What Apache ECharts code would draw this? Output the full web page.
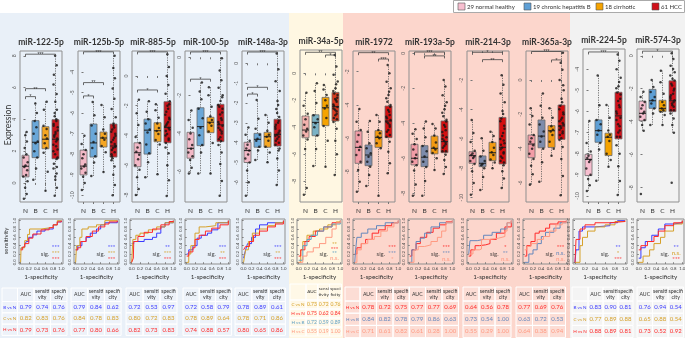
<!DOCTYPE html>
<html>
<head>
<meta charset="utf-8">
<script src="https://cdn.jsdelivr.net/npm/echarts@6/dist/echarts.min.js"></script>
<style>html,body{margin:0;padding:0;background:#fff}#main{width:685px;height:338px}</style>
</head>
<body>
<div id="main"></div>
<script>
// ---- data ----
var panelNames = ['miR-122-5p', 'miR-125b-5p', 'miR-885-5p', 'miR-100-5p', 'miR-148a-3p', 'miR-34a-5p',
  'miR-1972', 'miR-193a-5p', 'miR-214-3p', 'miR-365a-3p', 'miR-224-5p', 'miR-574-3p'];
var groups = ['N', 'B', 'C', 'H'];
var legendNames = ['29 normal healthy', '19 chronic hepatitis B', '18 cirrhotic', '61 HCC'];

// y axis range and tick labels per panel
var yRange = [[-1.2, 8.3], [-10.33, -2.97], [-8.47, 1.68], [-7.6, 0.33], [-6.99, 0.62], [-9.53, 1.73],
  [-9.82, -0.76], [-8.5, 0.13], [-10.3, 0], [-7.11, 1.69], [-10.29, -3.04], [-8.87, 0.41]];
var yTicks = [[0, 2, 4, 6, 8], [-4, -5, -6, -7, -8, -9, -10], [0, -2, -4, -6, -8], [0, -2, -4, -6],
  [0, -1, -2, -3, -4, -5, -6], [0, -2, -4, -6, -8], [-2, -4, -6, -8], [0, -2, -4, -6, -8],
  [-2, -4, -6, -8, -10], [0, -2, -4, -6], [-4, -5, -6, -7, -8, -9, -10], [0, -2, -4, -6, -8]];

// box stats [low whisker, Q1, median, Q3, high whisker] for N, B, C, H
var box_122 = [[-1.0, 0.38, 1.05, 1.74, 3.2], [0.2, 1.59, 2.56, 3.92, 5.07], [-0.5, 2.15, 2.75, 3.54, 5.17], [-0.8, 1.52, 2.75, 3.98, 7.97]];
var box_125b = [[-9.75, -9.01, -8.58, -7.8, -7.11], [-9.06, -8.14, -7.45, -6.53, -5.45], [-8.87, -7.65, -7.21, -6.92, -5.6], [-10.0, -8.14, -7.6, -6.53, -3.16]];
var box_885 = [[-8.0, -6.1, -5.16, -4.49, -1.6], [-6.8, -5.25, -3.64, -2.9, -1.73], [-6.6, -4.42, -3.68, -3.14, -1.89], [-8.06, -4.49, -3.45, -1.73, 1.46]];
var box_100 = [[-6.1, -5.3, -4.78, -3.94, -2.77], [-6.1, -4.64, -3.64, -2.65, -1.33], [-6.1, -3.96, -3.41, -3.15, -1.57], [-7.27, -4.43, -3.55, -2.47, -0.05]];
var box_148a = [[-6.67, -5.0, -4.4, -3.98, -3.24], [-4.87, -4.23, -3.83, -3.53, -1.85], [-4.99, -4.23, -3.7, -3.48, -2.6], [-6.13, -4.17, -3.58, -2.82, 0.5]];
var box_34a = [[-9.0, -4.77, -4.2, -3.16, -1.44], [-6.87, -4.62, -3.63, -3.07, -0.74], [-6.92, -3.88, -2.55, -1.78, -0.87], [-7.53, -3.53, -2.47, -1.41, 1.36]];
var box_1972 = [[-9.2, -7.5, -6.54, -5.56, -4.24], [-8.86, -7.64, -7.0, -6.4, -4.96], [-9.44, -6.54, -5.94, -5.54, -4.6], [-8.1, -5.96, -4.96, -4.06, -1.6]];
var box_193a = [[-8.14, -6.38, -6.0, -5.2, -4.34], [-8.14, -6.48, -5.94, -5.28, -3.9], [-6.67, -5.75, -5.43, -4.73, -4.04], [-6.9, -5.68, -5.05, -3.87, -1.53]];
var box_214 = [[-9.8, -7.66, -7.14, -6.87, -4.71], [-9.48, -7.89, -7.66, -7.16, -5.96], [-8.0, -7.48, -6.94, -6.23, -5.51], [-9.34, -7.71, -6.57, -4.53, -1.65]];
var box_365a = [[-6.1, -4.53, -3.73, -3.21, -1.65], [-5.93, -3.95, -3.27, -2.33, -0.78], [-4.41, -3.93, -2.96, -2.66, -1.65], [-6.71, -3.46, -2.68, -1.46, 1.59]];
var box_224 = [[-9.77, -9.04, -8.27, -8.03, -6.45], [-9.28, -7.46, -6.91, -6.4, -4.3], [-8.62, -8.09, -7.22, -7.03, -5.69], [-9.96, -7.3, -6.21, -5.09, -3.3]];
var box_574 = [[-4.55, -3.94, -3.49, -2.75, -2.18], [-4.2, -3.19, -2.73, -2.04, -1.47], [-4.2, -3.39, -3.19, -2.7, -0.91], [-4.67, -3.39, -2.73, -1.52, 0.15]];

// individual samples (read approximately)
var pts_122 = [[-1.0, -0.7, -0.3, 0.1, 0.4, 0.5, 0.8, 1.0, 1.1, 1.3, 1.6, 1.8, 2.2, 2.6, 3.0, 3.2],
  [0.2, 0.9, 1.6, 2.0, 2.5, 2.6, 3.1, 3.5, 3.9, 4.4, 5.0],
  [-0.5, 0.7, 1.9, 2.2, 2.5, 2.8, 3.0, 3.4, 3.6, 4.6, 5.1],
  [-0.8, -0.3, 0.2, 0.6, 0.9, 1.2, 1.5, 1.8, 2.1, 2.4, 2.6, 2.8, 3.0, 3.2, 3.5, 3.7, 3.9, 4.2, 4.6, 5.1, 5.6, 6.2, 6.8, 7.4, 8.0,
    1.6, 2.0, 2.3, 2.7, 2.9, 3.1, 3.3, 3.6, 4.0, 4.4, 1.0, 0.4]];
var pts_125b = [[-9.75, -9.4, -9.1, -8.9, -8.7, -8.6, -8.5, -8.2, -8.0, -7.8, -7.5, -7.1],
  [-9.06, -8.4, -8.1, -7.7, -7.4, -7.0, -6.6, -6.1, -5.45],
  [-8.87, -7.9, -7.6, -7.3, -7.2, -7.0, -6.8, -6.2, -5.6],
  [-10.0, -9.5, -9.0, -8.6, -8.3, -8.1, -7.9, -7.7, -7.6, -7.4, -7.2, -7.0, -6.8, -6.5, -6.2, -5.8, -5.3, -4.8, -4.3, -3.8, -3.2,
    -8.0, -7.8, -7.5, -7.3, -7.1, -6.9, -6.7, -7.65, -8.2, -6.6]];
var pts_885 = [[-8.0, -7.6, -6.8, -6.3, -6.0, -5.6, -5.3, -5.1, -4.8, -4.5, -4.1, -3.3, -2.5, -1.6],
  [-6.8, -5.8, -5.2, -4.6, -3.8, -3.6, -3.2, -2.9, -2.4, -1.7],
  [-6.6, -4.6, -4.3, -3.9, -3.7, -3.5, -3.2, -2.8, -2.3, -1.9],
  [-8.06, -7.0, -6.0, -5.2, -4.8, -4.5, -4.2, -3.9, -3.6, -3.4, -3.1, -2.8, -2.4, -2.0, -1.7, -1.2, -0.6, 0.0, 0.6, 1.46,
    -4.3, -4.0, -3.7, -3.5, -3.2, -2.9, -2.6, -2.2, -1.9, -3.3]];
var pts_100 = [[-6.1, -5.8, -5.4, -5.2, -5.0, -4.8, -4.6, -4.3, -4.0, -3.7, -3.3, -2.8],
  [-6.1, -5.0, -4.6, -4.1, -3.7, -3.2, -2.7, -2.2, -1.8, -1.33],
  [-6.1, -4.5, -3.9, -3.6, -3.45, -3.3, -3.1, -2.6, -2.0, -1.57],
  [-7.27, -6.5, -5.6, -5.0, -4.6, -4.3, -4.0, -3.8, -3.6, -3.4, -3.2, -2.9, -2.6, -2.3, -2.0, -1.6, -1.2, -0.7, -0.05,
    -4.2, -3.9, -3.7, -3.5, -3.3, -3.0, -2.7, -2.5, -4.4, -2.1]];
var pts_148a = [[-6.67, -6.0, -5.4, -5.0, -4.8, -4.6, -4.4, -4.3, -4.1, -3.9, -3.6, -3.24],
  [-4.87, -4.4, -4.2, -3.9, -3.8, -3.6, -3.3, -2.8, -1.85],
  [-4.99, -4.5, -4.2, -3.9, -3.7, -3.6, -3.4, -3.0, -2.6],
  [-6.13, -5.4, -4.8, -4.4, -4.1, -3.9, -3.7, -3.6, -3.4, -3.2, -3.0, -2.7, -2.3, -1.9, -1.4, -0.9, -0.3, 0.5,
    -4.0, -3.8, -3.5, -3.3, -3.1, -2.9, -2.5, -4.3, -3.65, -2.1]];
var pts_34a = [[-9.0, -8.5, -5.6, -4.9, -4.6, -4.3, -4.1, -3.8, -3.4, -3.0, -2.4, -1.44],
  [-6.87, -5.6, -4.6, -4.0, -3.7, -3.4, -3.1, -2.2, -1.3, -0.74],
  [-6.92, -5.0, -3.9, -3.3, -2.6, -2.4, -2.0, -1.6, -1.2, -0.87],
  [-7.53, -6.0, -5.0, -4.1, -3.6, -3.3, -3.0, -2.7, -2.5, -2.3, -2.0, -1.8, -1.5, -1.1, -0.6, -0.1, 0.5, 1.36,
    -3.4, -3.1, -2.8, -2.6, -2.4, -2.1, -1.9, -1.6, -1.3, -0.8]];
var pts_1972 = [[-9.2, -8.6, -7.9, -7.4, -7.0, -6.7, -6.5, -6.2, -5.8, -5.5, -5.0, -4.24],
  [-8.86, -8.2, -7.7, -7.4, -7.1, -6.9, -6.6, -6.3, -5.6, -4.96],
  [-9.44, -6.6, -6.3, -6.0, -5.9, -5.7, -5.5, -5.0, -4.6],
  [-8.1, -7.5, -6.8, -6.2, -5.9, -5.6, -5.3, -5.1, -4.9, -4.7, -4.4, -4.1, -3.8, -3.4, -3.0, -2.6, -2.1, -1.6,
    -5.8, -5.5, -5.2, -5.0, -4.8, -4.6, -4.3, -4.0, -3.6, -3.2]];
var pts_193a = [[-8.14, -7.5, -6.7, -6.4, -6.2, -6.0, -5.8, -5.5, -5.2, -4.9, -4.6, -4.34],
  [-8.14, -7.3, -6.5, -6.2, -5.9, -5.6, -5.3, -4.8, -4.3, -3.9],
  [-6.67, -6.0, -5.7, -5.5, -5.4, -5.1, -4.7, -4.3, -4.04],
  [-6.9, -6.5, -6.1, -5.8, -5.6, -5.4, -5.2, -5.0, -4.8, -4.5, -4.2, -3.9, -3.6, -3.2, -2.8, -2.4, -1.9, -1.53,
    -5.6, -5.3, -5.1, -4.9, -4.7, -4.4, -4.1, -3.8, -3.4, -3.0]];
var pts_214 = [[-9.8, -9.0, -8.2, -7.7, -7.5, -7.3, -7.2, -7.1, -7.0, -6.8, -6.2, -5.6, -4.71],
  [-9.48, -8.6, -8.0, -7.8, -7.7, -7.5, -7.2, -6.8, -5.96],
  [-8.0, -7.6, -7.4, -7.1, -6.9, -6.6, -6.2, -5.8, -5.51],
  [-9.34, -8.7, -8.2, -7.8, -7.5, -7.2, -6.9, -6.6, -6.3, -6.0, -5.6, -5.1, -4.6, -4.1, -3.5, -2.9, -2.3, -1.65,
    -7.6, -7.3, -7.0, -6.7, -6.4, -6.1, -5.8, -5.3, -4.8, -4.3]];
var pts_365a = [[-6.1, -5.5, -5.0, -4.6, -4.3, -4.0, -3.8, -3.6, -3.4, -3.2, -2.6, -2.1, -1.65],
  [-5.93, -4.8, -4.0, -3.6, -3.3, -3.0, -2.6, -2.2, -1.5, -0.78],
  [-4.41, -4.0, -3.6, -3.2, -3.0, -2.9, -2.7, -2.2, -1.65],
  [-6.71, -5.6, -4.6, -3.9, -3.5, -3.2, -3.0, -2.8, -2.6, -2.4, -2.2, -1.9, -1.5, -1.1, -0.6, 0.0, 0.6, 1.0, 1.59,
    -3.4, -3.1, -2.9, -2.7, -2.5, -2.3, -2.0, -1.7, -1.3, -0.3]];
var pts_224 = [[-9.77, -9.5, -9.2, -9.0, -8.7, -8.4, -8.3, -8.2, -8.1, -7.9, -7.5, -6.45],
  [-9.28, -7.8, -7.5, -7.1, -6.9, -6.6, -6.4, -5.7, -4.3],
  [-8.62, -8.3, -8.0, -7.4, -7.2, -7.1, -6.9, -6.3, -5.69],
  [-9.96, -9.3, -8.6, -8.0, -7.6, -7.2, -6.9, -6.6, -6.3, -6.0, -5.7, -5.4, -5.1, -4.8, -4.4, -4.0, -3.6, -3.3,
    -7.2, -7.0, -6.7, -6.4, -6.1, -5.8, -5.5, -5.2, -4.9, -4.6]];
var pts_574 = [[-8.38, -4.55, -4.2, -3.9, -3.7, -3.5, -3.4, -3.2, -3.0, -2.8, -2.5, -2.18],
  [-4.2, -3.5, -3.2, -2.9, -2.7, -2.5, -2.2, -1.9, -1.47],
  [-4.2, -3.6, -3.4, -3.3, -3.2, -3.0, -2.8, -2.3, -1.6, -0.91],
  [-7.7, -4.67, -4.2, -3.8, -3.5, -3.3, -3.1, -2.9, -2.7, -2.5, -2.3, -2.0, -1.7, -1.4, -1.0, -0.6, -0.2, 0.15,
    -3.3, -3.0, -2.8, -2.6, -2.4, -2.1, -1.8, -1.5, -1.2, -0.8]];

// significance brackets [group a, group b, level, label]
var brk_122 = [[0, 1, 5.43, '*'], [0, 2, 5.93, '**'], [0, 3, 8.1, '***']];
var brk_125b = [[0, 1, -5.16, '*'], [0, 2, -4.51, '**'], [0, 3, -3.01, '***']];
var brk_885 = [[0, 2, -0.94, '*'], [0, 3, 1.62, '***']];
var brk_100 = [[0, 2, -1.15, '*'], [0, 3, 0.28, '***']];
var brk_148a = [[0, 1, -1.55, '*'], [0, 2, -1.21, '*'], [0, 3, 0.57, '***']];
var brk_34a = [[0, 3, 1.56, '**'], [2, 3, 1.36, '*']];
var brk_1972 = [[0, 3, -0.86, '**'], [2, 3, -1.24, '***']];
var brk_193a = [[0, 3, 0.07, '***'], [1, 3, -0.15, '**']];
var brk_214 = [[0, 3, -0.09, '*'], [1, 3, -0.59, '**']];
var brk_365a = [[0, 3, 1.66, '***'], [2, 3, 1.17, '*']];
var brk_224 = [[0, 3, -3.18, '***']];
var brk_574 = [[0, 3, 0.28, '*']];

// ROC curves [1-specificity, sensitivity], one list per comparison
var roc_122 = [
  [[0, 0.33], [0.04, 0.37], [0.1, 0.42], [0.14, 0.5], [0.2, 0.6], [0.3, 0.66], [0.4, 0.75], [0.6, 0.8], [0.8, 0.9], [0.9, 0.97], [1, 1]],
  [[0, 0], [0.01, 0.35], [0.1, 0.52], [0.17, 0.67], [0.22, 0.8], [0.5, 0.84], [0.8, 0.9], [0.9, 1], [1, 1]],
  [[0, 0.3], [0.05, 0.37], [0.1, 0.45], [0.2, 0.58], [0.3, 0.68], [0.5, 0.78], [0.7, 0.83], [0.8, 0.9], [0.9, 0.97], [1, 1]]];
var roc_125b = [
  [[0, 0.3], [0.05, 0.4], [0.15, 0.5], [0.25, 0.6], [0.35, 0.7], [0.5, 0.8], [0.6, 0.9], [0.7, 0.95], [1, 1]],
  [[0, 0], [0.02, 0.4], [0.1, 0.6], [0.15, 0.8], [0.3, 0.85], [0.5, 0.9], [0.7, 1], [1, 1]],
  [[0, 0.3], [0.05, 0.35], [0.12, 0.5], [0.25, 0.62], [0.4, 0.75], [0.55, 0.85], [0.7, 0.92], [0.8, 0.97], [1, 1]]];
var roc_885 = [
  [[0, 0.45], [0.05, 0.5], [0.2, 0.5], [0.3, 0.55], [0.5, 0.6], [0.6, 0.7], [0.7, 0.85], [0.8, 0.95], [1, 1]],
  [[0, 0], [0.03, 0.55], [0.1, 0.65], [0.2, 0.7], [0.4, 0.78], [0.6, 0.85], [0.8, 0.95], [1, 1]],
  [[0, 0], [0.04, 0.1], [0.05, 0.5], [0.15, 0.62], [0.3, 0.72], [0.5, 0.8], [0.7, 0.9], [0.9, 0.98], [1, 1]]];
var roc_100 = [
  [[0, 0.2], [0.05, 0.3], [0.15, 0.4], [0.25, 0.58], [0.35, 0.65], [0.5, 0.7], [0.6, 0.78], [0.75, 0.95], [1, 1]],
  [[0, 0], [0.05, 0.2], [0.1, 0.4], [0.2, 0.7], [0.3, 0.85], [0.45, 0.88], [0.7, 0.95], [1, 1]],
  [[0, 0.15], [0.05, 0.25], [0.15, 0.35], [0.2, 0.55], [0.3, 0.65], [0.45, 0.75], [0.6, 0.82], [0.8, 0.9], [1, 1]]];
var roc_148a = [
  [[0, 0.1], [0.05, 0.3], [0.1, 0.45], [0.2, 0.6], [0.3, 0.8], [0.4, 0.9], [0.6, 0.95], [1, 1]],
  [[0, 0], [0.05, 0.3], [0.12, 0.5], [0.22, 0.7], [0.4, 0.8], [0.6, 0.88], [0.8, 0.95], [1, 1]],
  [[0, 0.3], [0.05, 0.38], [0.15, 0.5], [0.25, 0.65], [0.4, 0.75], [0.6, 0.85], [0.8, 0.92], [1, 1]]];
var roc_34a = [
  [[0, 0], [0.05, 0.3], [0.1, 0.5], [0.2, 0.65], [0.35, 0.75], [0.5, 0.8], [0.7, 0.9], [0.9, 0.97], [1, 1]],
  [[0, 0.15], [0.05, 0.3], [0.15, 0.5], [0.25, 0.62], [0.4, 0.75], [0.6, 0.85], [0.8, 0.95], [1, 1]],
  [[0, 0.05], [0.1, 0.4], [0.2, 0.55], [0.3, 0.65], [0.45, 0.75], [0.6, 0.85], [0.8, 0.92], [1, 1]],
  [[0, 0], [0.1, 0.15], [0.2, 0.25], [0.35, 0.35], [0.5, 0.45], [0.65, 0.6], [0.8, 0.8], [0.9, 0.95], [1, 1]]];
var roc_1972 = [
  [[0, 0.2], [0.05, 0.35], [0.15, 0.45], [0.25, 0.55], [0.4, 0.7], [0.55, 0.78], [0.7, 0.88], [0.85, 0.95], [1, 1]],
  [[0, 0], [0.02, 0.3], [0.05, 0.6], [0.15, 0.7], [0.3, 0.8], [0.5, 0.88], [0.7, 0.95], [1, 1]],
  [[0, 0], [0.05, 0.3], [0.15, 0.45], [0.3, 0.55], [0.45, 0.62], [0.6, 0.75], [0.75, 0.85], [0.9, 0.95], [1, 1]]];
var roc_193a = [
  [[0, 0.15], [0.05, 0.3], [0.15, 0.45], [0.25, 0.6], [0.4, 0.72], [0.55, 0.82], [0.7, 0.9], [0.85, 0.97], [1, 1]],
  [[0, 0], [0.05, 0.3], [0.15, 0.5], [0.25, 0.58], [0.35, 0.7], [0.5, 0.85], [0.7, 0.95], [1, 1]],
  [[0, 0], [0.1, 0.3], [0.2, 0.38], [0.35, 0.42], [0.5, 0.5], [0.65, 0.6], [0.75, 0.75], [0.85, 0.95], [1, 1]]];
var roc_214 = [
  [[0, 0.15], [0.05, 0.3], [0.15, 0.4], [0.25, 0.42], [0.4, 0.45], [0.5, 0.55], [0.65, 0.7], [0.85, 0.85], [1, 1]],
  [[0, 0.2], [0.03, 0.52], [0.2, 0.55], [0.35, 0.65], [0.55, 0.72], [0.75, 0.8], [0.9, 0.95], [1, 1]],
  [[0, 0.2], [0.1, 0.3], [0.25, 0.32], [0.3, 0.55], [0.5, 0.58], [0.7, 0.62], [0.85, 0.75], [0.9, 0.95], [1, 1]]];
var roc_365a = [
  [[0, 0.15], [0.05, 0.4], [0.15, 0.5], [0.25, 0.7], [0.35, 0.75], [0.5, 0.82], [0.6, 0.92], [0.8, 0.97], [1, 1]],
  [[0, 0], [0.1, 0.2], [0.2, 0.3], [0.3, 0.45], [0.4, 0.62], [0.5, 0.72], [0.7, 0.82], [0.85, 0.95], [1, 1]],
  [[0, 0.3], [0.05, 0.38], [0.15, 0.45], [0.3, 0.55], [0.45, 0.62], [0.6, 0.75], [0.75, 0.9], [0.9, 0.95], [1, 1]]];
var roc_224 = [
  [[0, 0], [0.02, 0.3], [0.08, 0.75], [0.15, 0.85], [0.4, 0.88], [0.7, 0.95], [0.85, 1], [1, 1]],
  [[0, 0], [0.1, 0.4], [0.15, 0.6], [0.25, 0.75], [0.4, 0.85], [0.6, 0.9], [0.8, 0.98], [1, 1]],
  [[0, 0], [0.02, 0.55], [0.1, 0.8], [0.2, 0.9], [0.4, 0.95], [0.7, 0.98], [1, 1]]];
var roc_574 = [
  [[0, 0.1], [0.05, 0.35], [0.15, 0.5], [0.3, 0.65], [0.45, 0.8], [0.6, 0.92], [0.8, 0.95], [1, 1]],
  [[0, 0], [0.1, 0.15], [0.25, 0.3], [0.35, 0.45], [0.5, 0.6], [0.6, 0.75], [0.8, 0.92], [1, 1]],
  [[0, 0.3], [0.05, 0.4], [0.2, 0.5], [0.35, 0.62], [0.45, 0.75], [0.6, 0.88], [0.8, 0.95], [1, 1]]];

// significance of each ROC curve
var sig_122 = ['***', '***', '***'];
var sig_125b = ['***', '***', '***'];
var sig_885 = ['**', '***', '***'];
var sig_100 = ['***', '**', '***'];
var sig_148a = ['***', '**', '***'];
var sig_34a = ['**', '***', '**', 'n.s.'];
var sig_1972 = ['***', '***', '*'];
var sig_193a = ['***', '***', 'n.s.'];
var sig_214 = ['*', '**', 'n.s.'];
var sig_365a = ['***', 'n.s.', 'n.s.'];
var sig_224 = ['**', '*', '***'];
var sig_574 = ['**', 'n.s.', '***'];

// AUC / sensitivity / specificity tables
var tab_122 = [['0.79', '0.74', '0.76'], ['0.82', '0.83', '0.76'], ['0.79', '0.73', '0.76']];
var tab_125b = [['0.79', '0.84', '0.62'], ['0.84', '0.78', '0.83'], ['0.77', '0.80', '0.66']];
var tab_885 = [['0.72', '0.53', '0.97'], ['0.80', '0.72', '0.83'], ['0.82', '0.73', '0.83']];
var tab_100 = [['0.72', '0.58', '0.79'], ['0.78', '0.89', '0.64'], ['0.74', '0.88', '0.57']];
var tab_148a = [['0.78', '0.89', '0.61'], ['0.78', '0.71', '0.86'], ['0.80', '0.65', '0.86']];
var tab_34a = [['0.73', '0.72', '0.76'], ['0.75', '0.62', '0.84'], ['0.72', '0.59', '0.89'], ['0.55', '0.19', '1.00']];
var tab_1972 = [['0.78', '0.72', '0.75'], ['0.84', '0.82', '0.78'], ['0.71', '0.61', '0.82']];
var tab_193a = [['0.77', '0.77', '0.69'], ['0.79', '0.86', '0.63'], ['0.61', '0.28', '1.00']];
var tab_214 = [['0.64', '0.56', '0.78'], ['0.73', '0.54', '1.00'], ['0.55', '0.29', '1.00']];
var tab_365a = [['0.77', '0.69', '0.76'], ['0.63', '0.72', '0.53'], ['0.64', '0.38', '0.94']];
var tab_224 = [['0.83', '0.90', '0.81'], ['0.77', '0.89', '0.88'], ['0.88', '0.89', '0.81']];
var tab_574 = [['0.76', '0.94', '0.54'], ['0.65', '0.88', '0.54'], ['0.73', '0.52', '0.92']];

var rowsStd = ['B vs N', 'C vs N', 'H vs N'];
var rows34a = ['C vs N', 'H vs N', 'H vs B', 'H vs C'];
var rowsHcc = ['H vs N', 'H vs B', 'H vs C'];

// ---- styling / layout ----
var cBlue = '#3a3aff', cGold = '#d6a12a', cRed = '#ff2a2a', cSteel = '#6487bd', cSalmon = '#ff9a82';
var cmpStd = [cBlue, cGold, cRed], cmp34a = [cGold, cRed, '#5f9fc4', cSalmon], cmpHcc = [cRed, cSteel, cSalmon];
var colBlue = ['#f2b8c6', '#6aa7d8', '#f5a623', '#c8161d'];
var colYellow = ['#f3b2ad', '#7bb2c4', '#f5a300', '#d83a1c'];
var colRed = ['#f29ca6', '#7d8bab', '#f39a12', '#d40f10'];
var colGrey = ['#f7bfd0', '#5e9fd5', '#f5a300', '#d0101a'];

var panels = [
  {box: box_122, pts: pts_122, brk: brk_122, roc: roc_122, sig: sig_122, tab: tab_122, rows: rowsStd, cmp: cmpStd, col: colBlue},
  {box: box_125b, pts: pts_125b, brk: brk_125b, roc: roc_125b, sig: sig_125b, tab: tab_125b, rows: null, cmp: cmpStd, col: colBlue},
  {box: box_885, pts: pts_885, brk: brk_885, roc: roc_885, sig: sig_885, tab: tab_885, rows: null, cmp: cmpStd, col: colBlue},
  {box: box_100, pts: pts_100, brk: brk_100, roc: roc_100, sig: sig_100, tab: tab_100, rows: null, cmp: cmpStd, col: colBlue},
  {box: box_148a, pts: pts_148a, brk: brk_148a, roc: roc_148a, sig: sig_148a, tab: tab_148a, rows: null, cmp: cmpStd, col: colBlue},
  {box: box_34a, pts: pts_34a, brk: brk_34a, roc: roc_34a, sig: sig_34a, tab: tab_34a, rows: rows34a, cmp: cmp34a, col: colYellow},
  {box: box_1972, pts: pts_1972, brk: brk_1972, roc: roc_1972, sig: sig_1972, tab: tab_1972, rows: rowsHcc, cmp: cmpHcc, col: colRed},
  {box: box_193a, pts: pts_193a, brk: brk_193a, roc: roc_193a, sig: sig_193a, tab: tab_193a, rows: null, cmp: cmpHcc, col: colRed},
  {box: box_214, pts: pts_214, brk: brk_214, roc: roc_214, sig: sig_214, tab: tab_214, rows: null, cmp: cmpHcc, col: colRed},
  {box: box_365a, pts: pts_365a, brk: brk_365a, roc: roc_365a, sig: sig_365a, tab: tab_365a, rows: null, cmp: cmpHcc, col: colRed},
  {box: box_224, pts: pts_224, brk: brk_224, roc: roc_224, sig: sig_224, tab: tab_224, rows: rowsStd, cmp: cmpStd, col: colGrey},
  {box: box_574, pts: pts_574, brk: brk_574, roc: roc_574, sig: sig_574, tab: tab_574, rows: null, cmp: cmpStd, col: colGrey}
];

var frameLeft = [20, 78, 132, 185, 242, 300, 353, 409, 467, 526, 583, 637];
var frameTop = [51, 51, 51, 51, 51, 50, 51, 51, 51, 51, 49, 49];
var frameW = 42, frameBottom = 202;
var rocLeft = [19, 74, 130, 185, 242, 297, 353, 408, 467, 523, 573, 637];
var rocW = [44, 45, 45, 45, 43, 45, 47, 46, 46, 45, 54, 47];
var rocTop = 219, rocBottom = 264;
var tabLeft = [17.5, 71, 126, 183, 235, 306, 360, 409, 463, 516, 588, 637];
var tabColW = [16.5, 16.7, 17, 16.2, 16.8, 11.8, 16.5, 16.5, 16, 16.5, 15, 15.5];
var tabLabelLeft = [2, null, null, null, null, 290, 345, null, null, null, 572, null];
var jit = [-0.16, 0.12, -0.04, 0.2, -0.22, 0.06, 0.17, -0.12, 0.0, 0.22, -0.19, 0.09, -0.08, 0.14, -0.02, 0.11, -0.2];
var FONT = 'Lato, "Open Sans", sans-serif';

var grids = [], xAxes = [], yAxes = [], series = [], graphics = [];

function boxRender(colors) {
  return function (params, api) {
    var g = api.value(0);
    var lo = api.coord([g, api.value(1)]), q1 = api.coord([g, api.value(2)]);
    var md = api.coord([g, api.value(3)]), q3 = api.coord([g, api.value(4)]);
    var hi = api.coord([g, api.value(5)]);
    var hw = api.size([0.35, 0])[0];
    var x = q1[0];
    return {type: 'group', children: [
      {type: 'line', shape: {x1: x, y1: lo[1], x2: x, y2: q1[1]}, style: {stroke: '#555', lineWidth: 0.8, lineDash: [1.2, 1.2]}},
      {type: 'line', shape: {x1: x, y1: q3[1], x2: x, y2: hi[1]}, style: {stroke: '#555', lineWidth: 0.8, lineDash: [1.2, 1.2]}},
      {type: 'rect', shape: {x: x - hw, y: q3[1], width: hw * 2, height: q1[1] - q3[1]}, style: {fill: colors[g], stroke: '#6b6b6b', lineWidth: 0.8}},
      {type: 'line', shape: {x1: x - hw, y1: md[1], x2: x + hw, y2: md[1]}, style: {stroke: '#222', lineWidth: 1}}
    ]};
  };
}

function brkRender(list) {
  return function (params, api) {
    var b = list[params.dataIndex];
    var a = api.coord([b[0], b[2]]), c = api.coord([b[1], b[2]]);
    return {type: 'group', children: [
      {type: 'polyline', shape: {points: [[a[0], a[1] + 2.5], [a[0], a[1]], [c[0], c[1]], [c[0], c[1] + 2.5]]}, style: {stroke: '#444', lineWidth: 0.8, fill: null}},
      {type: 'text', x: (a[0] + c[0]) / 2, y: a[1] + 0.5, style: {text: b[3], fill: '#333', font: '5px sans-serif', align: 'center', verticalAlign: 'middle'}}
    ]};
  };
}

panels.forEach(function (p, i) {
  var bi = 2 * i, ri = 2 * i + 1;
  // box plot grid
  grids.push({left: frameLeft[i], top: frameTop[i], width: frameW, height: frameBottom - frameTop[i],
    show: true, borderColor: '#8f8f8f', borderWidth: 1, backgroundColor: 'transparent', outerBoundsMode: 'none'});
  xAxes.push({gridIndex: bi, type: 'value', min: -0.55, max: 3.65, splitLine: {show: false}, axisLine: {show: false},
    axisTick: {show: true, customValues: [0, 1, 2, 3], length: 2, lineStyle: {color: '#777'}},
    axisLabel: {customValues: [0, 1, 2, 3], formatter: function (v) { return groups[Math.round(v)]; },
      fontSize: 6.5, color: '#333', margin: 5, fontFamily: FONT}});
  yAxes.push({gridIndex: bi, type: 'value', min: yRange[i][0], max: yRange[i][1], splitLine: {show: false},
    axisLine: {show: false}, axisTick: {show: true, customValues: yTicks[i], length: 2, lineStyle: {color: '#777'}},
    axisLabel: {customValues: yTicks[i], rotate: 90, fontSize: 5, color: '#555', margin: 3, fontFamily: FONT}});

  // ROC grid
  grids.push({left: rocLeft[i], top: rocTop, width: rocW[i], height: rocBottom - rocTop,
    show: true, borderColor: '#8f8f8f', borderWidth: 1, backgroundColor: 'transparent', outerBoundsMode: 'none'});
  var rt = [0, 0.2, 0.4, 0.6, 0.8, 1.0];
  xAxes.push({gridIndex: ri, type: 'value', min: -0.04, max: 1.04, splitLine: {show: false}, axisLine: {show: false},
    axisTick: {show: true, customValues: rt, length: 1.5, lineStyle: {color: '#777'}},
    axisLabel: {customValues: rt, formatter: function (v) { return v.toFixed(1); }, fontSize: 4.3, color: '#444', margin: 3, fontFamily: FONT}});
  yAxes.push({gridIndex: ri, type: 'value', min: -0.04, max: 1.04, splitLine: {show: false}, axisLine: {show: false},
    axisTick: {show: true, customValues: rt, length: 1.5, lineStyle: {color: '#777'}},
    axisLabel: {customValues: rt, formatter: function (v) { return v.toFixed(1); }, rotate: 90, fontSize: 4.3, color: '#444', margin: 2.5, fontFamily: FONT}});

  series.push({type: 'custom', xAxisIndex: bi, yAxisIndex: bi, z: 2, silent: true,
    data: p.box.map(function (s, g) { return [g].concat(s); }), renderItem: boxRender(p.col)});
  var pd = [];
  p.pts.forEach(function (vals, g) {
    vals.forEach(function (v, k) { pd.push([g + jit[(k + g * 4) % jit.length], v]); });
  });
  series.push({type: 'scatter', xAxisIndex: bi, yAxisIndex: bi, z: 3, silent: true, symbolSize: 2.5,
    itemStyle: {color: '#151515'}, data: pd});
  series.push({type: 'custom', xAxisIndex: bi, yAxisIndex: bi, z: 4, silent: true,
    data: p.brk.map(function (b) { return [b[0], b[2]]; }), renderItem: brkRender(p.brk)});

  p.roc.forEach(function (curve, c) {
    series.push({type: 'line', xAxisIndex: ri, yAxisIndex: ri, step: 'end', showSymbol: false, silent: true, z: 3,
      lineStyle: {color: p.cmp[c], width: 1}, data: curve});
  });
  var n = p.sig.length;
  var sy = n === 4 ? [0.44, 0.33, 0.22, 0.1] : [0.37, 0.22, 0.08];
  var sigData = [{value: [0.6, 0.2], label: {formatter: 'sig.', color: '#222', fontSize: 6}}];
  p.sig.forEach(function (s, c) {
    sigData.push({value: [0.86, sy[c]], label: {formatter: s, color: p.cmp[c], fontSize: 6, fontWeight: 'bold'}});
  });
  series.push({type: 'scatter', xAxisIndex: ri, yAxisIndex: ri, symbolSize: 0, silent: true, z: 5,
    label: {show: true, position: 'inside', fontFamily: FONT}, data: sigData});
});

// ---- graphic: backgrounds, titles, legend, tables ----
graphics.push({type: 'rect', z: -10, shape: {x: 0, y: 13, width: 289, height: 325}, style: {fill: '#e9f0f8'}});
graphics.push({type: 'rect', z: -10, shape: {x: 289, y: 13, width: 54, height: 325}, style: {fill: '#fff7e2'}});
graphics.push({type: 'rect', z: -10, shape: {x: 343, y: 13, width: 227, height: 325}, style: {fill: '#fcd6cc'}});
graphics.push({type: 'rect', z: -10, shape: {x: 570, y: 13, width: 115, height: 325}, style: {fill: '#f2f2f2'}});

panels.forEach(function (p, i) {
  graphics.push({type: 'text', z: 20, x: frameLeft[i] + frameW / 2, y: frameTop[i] - 9,
    style: {text: panelNames[i], fill: '#333', font: 'bold 8.5px ' + FONT, align: 'center', verticalAlign: 'middle'}});
  graphics.push({type: 'text', z: 20, x: rocLeft[i] + rocW[i] / 2, y: 277,
    style: {text: '1-specificity', fill: '#333', font: '6.3px ' + FONT, align: 'center', verticalAlign: 'middle'}});
});
graphics.push({type: 'text', z: 20, x: 8, y: 125, rotation: Math.PI / 2,
  style: {text: 'Expression', fill: '#333', font: '8.5px ' + FONT, align: 'center', verticalAlign: 'middle'}});
graphics.push({type: 'text', z: 20, x: 6, y: 241, rotation: Math.PI / 2,
  style: {text: 'sensitivity', fill: '#333', font: '6px ' + FONT, align: 'center', verticalAlign: 'middle'}});

// legend
graphics.push({type: 'rect', z: 20, shape: {x: 453.5, y: 0.5, width: 231, height: 12}, style: {fill: '#fff', stroke: '#aaa', lineWidth: 1}});
var legX = [458, 524, 596, 652];
legendNames.forEach(function (name, k) {
  graphics.push({type: 'rect', z: 21, shape: {x: legX[k], y: 3, width: 7, height: 7}, style: {fill: colGrey[k], stroke: '#555', lineWidth: 0.6}});
  graphics.push({type: 'text', z: 21, x: legX[k] + 9, y: 6.8,
    style: {text: name, fill: '#333', font: '6px ' + FONT, align: 'left', verticalAlign: 'middle'}});
});

// tables
function tableGeom(i) {
  if (i < 5) return {top: 288, head: 301.5, rh: 11.3};
  if (i === 5) return {top: 284, head: 300, rh: 9};
  return {top: 287, head: 301, rh: 12.2};
}
panels.forEach(function (p, i) {
  var g = tableGeom(i);
  var heads = i === 5 ? ['AUC', 'sensi\ntivity', 'speci\nficity'] : ['AUC', 'sensiti\nvity', 'specifi\ncity'];
  var cellStyle = {fill: 'rgba(255,255,255,0.18)', stroke: '#ffffff', lineWidth: 1};
  var lblW = tabLeft[i] - (tabLabelLeft[i] || 0);
  var fs = i === 5 ? 5 : 6;
  if (tabLabelLeft[i] !== null) {
    graphics.push({type: 'rect', z: 15, shape: {x: tabLabelLeft[i], y: g.top, width: lblW, height: g.head - g.top}, style: cellStyle});
  }
  heads.forEach(function (h, c) {
    var x0 = tabLeft[i] + c * tabColW[i];
    graphics.push({type: 'rect', z: 15, shape: {x: x0, y: g.top, width: tabColW[i], height: g.head - g.top}, style: cellStyle});
    graphics.push({type: 'text', z: 16, x: x0 + tabColW[i] / 2, y: (g.top + g.head) / 2,
      style: {text: h, fill: '#333', font: (i === 5 ? 4.6 : 5.2) + 'px ' + FONT, lineHeight: 6, align: 'center', verticalAlign: 'middle'}});
  });
  p.tab.forEach(function (row, rIdx) {
    var y0 = g.head + rIdx * g.rh;
    var color = p.cmp[rIdx];
    if (tabLabelLeft[i] !== null) {
      graphics.push({type: 'rect', z: 15, shape: {x: tabLabelLeft[i], y: y0, width: lblW, height: g.rh}, style: cellStyle});
      graphics.push({type: 'text', z: 16, x: tabLabelLeft[i] + lblW / 2, y: y0 + g.rh / 2,
        style: {text: p.rows[rIdx], fill: color, font: '4.6px ' + FONT, align: 'center', verticalAlign: 'middle'}});
    }
    row.forEach(function (v, c) {
      var x0 = tabLeft[i] + c * tabColW[i];
      graphics.push({type: 'rect', z: 15, shape: {x: x0, y: y0, width: tabColW[i], height: g.rh}, style: cellStyle});
      graphics.push({type: 'text', z: 16, x: x0 + tabColW[i] / 2, y: y0 + g.rh / 2,
        style: {text: v, fill: color, font: fs + 'px ' + FONT, align: 'center', verticalAlign: 'middle'}});
    });
  });
});

var chart = echarts.init(document.getElementById('main'));
chart.setOption({
  animation: false,
  backgroundColor: '#ffffff',
  grid: grids,
  xAxis: xAxes,
  yAxis: yAxes,
  series: series,
  graphic: {elements: graphics}
});
</script>
</body>
</html>
